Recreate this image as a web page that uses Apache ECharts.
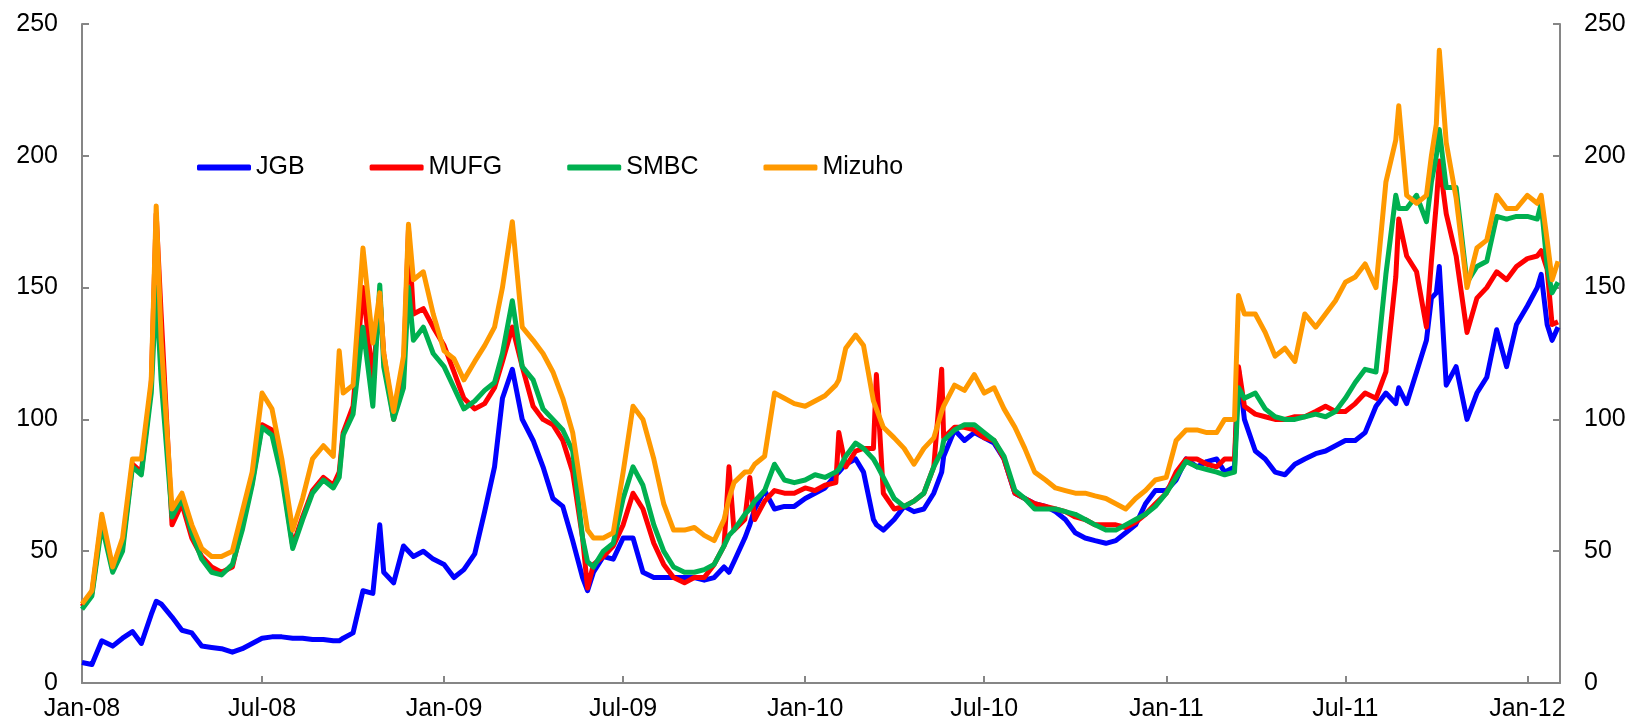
<!DOCTYPE html>
<html>
<head>
<meta charset="utf-8">
<script src="https://cdn.jsdelivr.net/npm/echarts@6/dist/echarts.min.js"></script>
<style>
  html, body { margin: 0; padding: 0; background: #fff; }
  #chart { width: 1632px; height: 723px; }
</style>
</head>
<body>
<div id="chart"></div>
<script>
const dates = [
	'2008-01-01', '2008-01-11', '2008-01-21', '2008-02-01', '2008-02-11', '2008-02-21',
	'2008-03-01', '2008-03-11', '2008-03-16', '2008-03-21', '2008-04-01', '2008-04-11',
	'2008-04-21', '2008-05-01', '2008-05-11', '2008-05-21', '2008-06-01', '2008-06-11',
	'2008-06-21', '2008-07-01', '2008-07-11', '2008-07-21', '2008-08-01', '2008-08-11',
	'2008-08-21', '2008-09-01', '2008-09-11', '2008-09-17', '2008-09-21', '2008-10-01',
	'2008-10-11', '2008-10-21', '2008-10-28', '2008-11-01', '2008-11-11', '2008-11-21',
	'2008-11-26', '2008-12-01', '2008-12-11', '2008-12-21', '2009-01-01', '2009-01-11',
	'2009-01-21', '2009-02-01', '2009-02-11', '2009-02-21', '2009-03-01', '2009-03-11',
	'2009-03-21', '2009-04-01', '2009-04-11', '2009-04-21', '2009-05-01', '2009-05-11',
	'2009-05-21', '2009-05-26', '2009-06-01', '2009-06-11', '2009-06-21', '2009-07-01',
	'2009-07-11', '2009-07-21', '2009-08-01', '2009-08-11', '2009-08-21', '2009-09-01',
	'2009-09-11', '2009-09-21', '2009-10-01', '2009-10-11', '2009-10-16', '2009-10-21',
	'2009-11-01', '2009-11-06', '2009-11-11', '2009-11-21', '2009-12-01', '2009-12-11',
	'2009-12-21', '2010-01-01', '2010-01-11', '2010-01-21', '2010-02-01', '2010-02-04',
	'2010-02-11', '2010-02-21', '2010-03-01', '2010-03-11', '2010-03-14', '2010-03-21',
	'2010-04-01', '2010-04-11', '2010-04-21', '2010-05-01', '2010-05-11', '2010-05-19',
	'2010-05-21', '2010-06-01', '2010-06-11', '2010-06-21', '2010-07-01', '2010-07-11',
	'2010-07-21', '2010-08-01', '2010-08-11', '2010-08-21', '2010-09-01', '2010-09-11',
	'2010-09-21', '2010-10-01', '2010-10-11', '2010-10-21', '2010-11-01', '2010-11-11',
	'2010-11-21', '2010-12-01', '2010-12-11', '2010-12-21', '2011-01-01', '2011-01-11',
	'2011-01-21', '2011-02-01', '2011-02-11', '2011-02-21', '2011-03-01', '2011-03-11',
	'2011-03-15', '2011-03-21', '2011-04-01', '2011-04-11', '2011-04-21', '2011-05-01',
	'2011-05-11', '2011-05-21', '2011-06-01', '2011-06-11', '2011-06-21', '2011-07-01',
	'2011-07-11', '2011-07-21', '2011-08-01', '2011-08-11', '2011-08-21', '2011-08-24',
	'2011-09-01', '2011-09-11', '2011-09-21', '2011-09-26', '2011-10-01', '2011-10-04',
	'2011-10-11', '2011-10-21', '2011-11-01', '2011-11-11', '2011-11-21', '2011-12-01',
	'2011-12-11', '2011-12-21', '2012-01-01', '2012-01-11', '2012-01-15', '2012-01-21',
	'2012-01-26', '2012-02-01',
]

const jgb = [
	7.8, 7, 16, 14, 17, 19.5, 15, 26, 31, 30, 25, 20,
	19, 14, 13.5, 13, 11.7, 13, 15, 17, 17.5, 17.5, 17, 17,
	16.5, 16.5, 16, 16, 17, 19, 35, 34, 60, 42, 38, 52,
	50, 48, 50, 47, 45, 40, 43, 49, 65, 82, 108, 119,
	100, 92, 82, 70, 67, 54, 40, 35, 42, 48, 47, 55,
	55, 42, 40, 40, 40, 40, 40, 39, 40, 44, 42, 46,
	55, 60, 66, 73, 66, 67, 67, 70, 72, 74, 79, 80,
	83, 85, 80, 62, 60, 58, 62, 67, 65, 66, 72, 80,
	86, 96, 92, 95, 93, 91, 85, 72, 70, 68, 67, 65,
	62, 57, 55, 54, 53, 54, 57, 60, 68, 73, 73, 77,
	85, 82, 84, 85, 80, 82, 119, 100, 88, 85, 80, 79,
	83, 85, 87, 88, 90, 92, 92, 95, 105, 110, 106, 112,
	106, 118, 130, 146, 148, 158, 113, 120, 100, 110, 116, 134,
	120, 136, 143, 150, 155, 136, 130, 135,
]

const mufg = [
	29, 34, 62, 43, 52, 83, 80, 113, 178, 140, 60, 68,
	55, 48, 44, 42, 44, 60, 76, 98, 96, 80, 52, 63,
	73, 78, 75, 80, 95, 105, 150, 115, 147, 125, 100, 118,
	172, 140, 142, 135, 128, 118, 108, 104, 106, 112, 122, 135,
	120, 105, 100, 98, 92, 80, 55, 36, 45, 48, 52, 60,
	72, 66, 53, 45, 40, 38, 40, 40, 45, 52, 82, 58,
	62, 78, 62, 69, 73, 72, 72, 74, 73, 75, 76, 95,
	82, 88, 89, 89, 117, 72, 66, 67, 69, 72, 82, 119,
	93, 97, 97, 96, 93, 92, 85, 72, 70, 68, 67, 66,
	65, 63, 62, 60, 60, 60, 59, 61, 64, 68, 72, 80,
	85, 85, 83, 82, 85, 85, 120, 105, 102, 101, 100, 100,
	101, 101, 103, 105, 103, 103, 106, 110, 108, 118, 154, 176,
	162, 156, 135, 160, 182, 198, 178, 162, 133, 146, 150, 156,
	153, 158, 161, 162, 164, 157, 136, 137,
]

const smbc = [
	28, 33, 60, 42, 50, 82, 79, 110, 150, 115, 63, 70,
	57, 47, 42, 41, 45, 58, 75, 97, 94, 78, 51, 62,
	72, 77, 74, 78, 94, 102, 135, 105, 151, 120, 100, 112,
	150, 130, 135, 125, 120, 112, 104, 107, 111, 114, 125, 145,
	120, 115, 104, 100, 96, 88, 55, 46, 44, 50, 53, 70,
	82, 75, 60, 50, 44, 42, 42, 43, 45, 52, 56, 58,
	64, 66, 69, 73, 83, 77, 76, 77, 79, 78, 80, 81,
	86, 91, 89, 85, 83, 78, 70, 67, 69, 72, 82, 88,
	92, 96, 98, 98, 95, 92, 86, 73, 70, 66, 66, 66,
	65, 64, 62, 60, 58, 58, 60, 62, 64, 67, 72, 78,
	84, 82, 81, 80, 79, 80, 112, 108, 110, 104, 101, 100,
	100, 101, 102, 101, 103, 108, 114, 119, 118, 155, 185, 180,
	180, 185, 175, 190, 200, 210, 188, 188, 152, 158, 160, 177,
	176, 177, 177, 176, 182, 158, 148, 152,
]

const mizuho = [
	30, 35, 64, 44, 55, 85, 85, 115, 181, 130, 66, 72,
	60, 51, 48, 48, 50, 65, 80, 110, 104, 85, 58, 70,
	85, 90, 86, 126, 110, 113, 165, 129, 148, 125, 103, 124,
	174, 153, 156, 140, 126, 123, 115, 122, 128, 135, 150, 175,
	135, 130, 125, 118, 108, 95, 70, 58, 55, 55, 57, 80,
	105, 100, 85, 68, 58, 58, 59, 56, 54, 62, 70, 76,
	80, 80, 83, 86, 110, 108, 106, 105, 107, 109, 113, 115,
	127, 132, 128, 107, 104, 97, 93, 89, 83, 89, 93, 103,
	105, 113, 111, 117, 110, 112, 104, 97, 89, 80, 77, 74,
	73, 72, 72, 71, 70, 68, 66, 70, 73, 77, 78, 92,
	96, 96, 95, 95, 100, 100, 147, 140, 140, 133, 124, 127,
	122, 140, 135, 140, 145, 152, 154, 159, 150, 190, 206, 219,
	185, 182, 185, 200, 212, 240, 205, 184, 150, 165, 168, 185,
	180, 180, 185, 182, 185, 168, 153, 160,
]

const tickDates = [
	'2008-01-01', '2008-07-01', '2009-01-01', '2009-07-01', '2010-01-01',
	'2010-07-01', '2011-01-01', '2011-07-01', '2012-01-01',
]
const tickLabels = ['Jan-08', 'Jul-08', 'Jan-09', 'Jul-09', 'Jan-10', 'Jul-10', 'Jan-11', 'Jul-11', 'Jan-12']

// x is counted in days from 1 Jan 2008
const dayNo = (s) => {
	const [y, m, d] = s.split('-').map(Number)
	return Math.round((Date.UTC(y, m - 1, d) - Date.UTC(2008, 0, 1)) / 86400000)
}
const tickValues = tickDates.map(dayNo)
const pairs = (vals) => dates.map((d, i) => [dayNo(d), vals[i]])

const FONT = 'Liberation Sans, Arial, sans-serif'
const axisGray = '#868686'

const myChart = echarts.init(document.getElementById('chart'), null, { renderer: 'canvas' })

const yAxisBase = {
	type: 'value',
	min: 0,
	max: 250,
	interval: 50,
	splitLine: { show: false },
	axisLine: { show: true, lineStyle: { color: axisGray, width: 2 } },
	axisTick: { show: true, inside: true, length: 7, lineStyle: { color: axisGray, width: 2 } },
	axisLabel: { color: '#000', fontSize: 25, fontFamily: FONT, margin: 24 },
}

let option = {
	animation: false,
	backgroundColor: '#fff',
	grid: { left: 82, right: 72, top: 24, bottom: 40, containLabel: false, outerBoundsMode: 'none' },
	legend: {
		left: 192,
		top: 150,
		itemWidth: 54,
		itemHeight: 6,
		itemGap: 65,
		icon: 'roundRect',
		textStyle: { color: '#000', fontSize: 25, fontFamily: FONT },
		data: ['JGB', 'MUFG', 'SMBC', 'Mizuho'],
	},
	xAxis: {
		type: 'value',
		min: 0,
		max: dayNo('2012-02-03'),
		splitLine: { show: false },
		axisLine: { show: true, onZero: false, lineStyle: { color: axisGray, width: 2 } },
		axisTick: {
			show: true,
			inside: true,
			length: 7,
			customValues: tickValues,
			lineStyle: { color: axisGray, width: 2 },
		},
		axisLabel: {
			color: '#000',
			fontSize: 25,
			fontFamily: FONT,
			margin: 14,
			customValues: tickValues,
			formatter: (v) => {
				const i = tickValues.indexOf(Math.round(v))
				return i >= 0 ? tickLabels[i] : ''
			},
		},
	},
	yAxis: [
		Object.assign({}, yAxisBase, { position: 'left' }),
		Object.assign({}, yAxisBase, { position: 'right' }),
	],
	series: [
		{ name: 'JGB', type: 'line', data: pairs(jgb), color: '#0000ff' },
		{ name: 'MUFG', type: 'line', data: pairs(mufg), color: '#ff0000' },
		{ name: 'SMBC', type: 'line', data: pairs(smbc), color: '#00b050' },
		{ name: 'Mizuho', type: 'line', data: pairs(mizuho), color: '#ff9900' },
	].map((s) => Object.assign(s, {
		showSymbol: false,
		symbol: 'none',
		lineStyle: { width: 5, color: s.color, join: 'round' },
		itemStyle: { color: s.color },
	})),
}
myChart.setOption(option)

window.addEventListener('resize', () => {
	myChart.resize()
})
</script>
</body>
</html>
